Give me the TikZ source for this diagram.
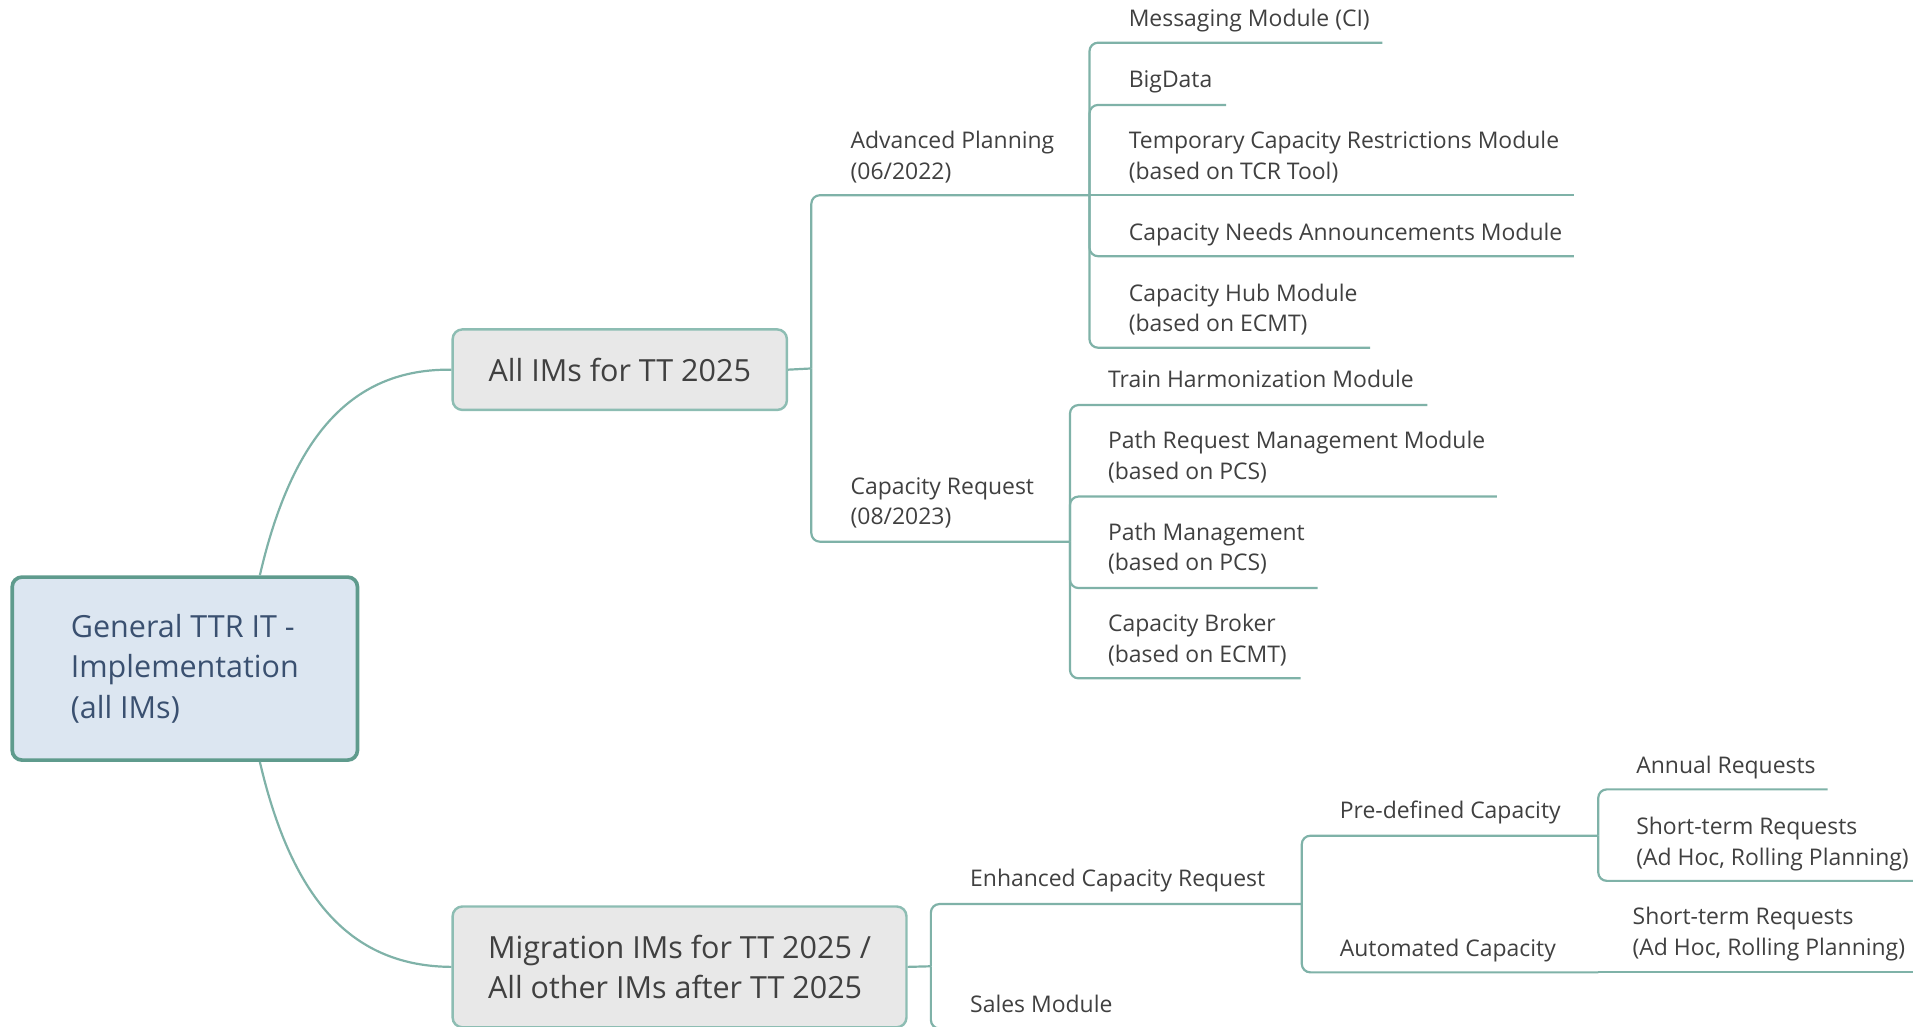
\documentclass[tikz,border=0pt]{standalone}
\usepackage{fontspec}
\setmainfont{Open Sans}
\definecolor{ln}{HTML}{7FB2A8}
\definecolor{rootborder}{HTML}{5F9B8D}
\definecolor{rootfill}{HTML}{DCE6F1}
\definecolor{roottext}{HTML}{3A5070}
\definecolor{boxfill}{HTML}{E8E8E8}
\definecolor{boxborder}{HTML}{8DBDB3}
\definecolor{txt}{HTML}{404040}
\tikzset{
  lbl/.style={anchor=base west, inner sep=0pt, font=\fontsize{18.8}{25}\selectfont, text=txt, align=left},
  conn/.style={draw=ln, line width=1.8pt, rounded corners=7pt},
  rootbox/.style={draw=rootborder, fill=rootfill, line width=3pt, rounded corners=8pt, minimum width=283pt, minimum height=150pt, inner sep=0pt, align=left, text=roottext, font=\fontsize{25}{33}\selectfont},
  mainbox/.style={draw=boxborder, fill=boxfill, line width=2pt, rounded corners=8pt, inner sep=0pt, align=left, text=txt, font=\fontsize{25}{33}\selectfont}
}
\begin{document}
\begin{tikzpicture}[x=1pt,y=-1pt]
\clip (0,0) rectangle (1568,841);
\useasboundingbox (0,0) rectangle (1568,841);
% boxes
\node[rootbox] (root) at (151.5,548) {General TTR IT -\\Implementation\\(all IMs)};
\node[mainbox, minimum width=274pt, minimum height=66pt] (allims) at (508,303) {All IMs for TT 2025};
\node[mainbox, minimum width=372pt, minimum height=99pt] (migr) at (557,792.5) {Migration IMs for TT 2025 /\\All other IMs after TT 2025};
% root curves
\draw[draw=ln, line width=1.8pt] ([xshift=61.5pt]root.north) .. controls (240,355) and (290,302) .. (allims.west);
\draw[draw=ln, line width=1.8pt] ([xshift=61.5pt]root.south) .. controls (240,740) and (290,792) .. (migr.west);
% coordinates
\coordinate (j1) at (665,302);
\coordinate (jA) at (893,160);
\coordinate (jC) at (877,444);
\coordinate (msgE) at (1133,35);
\coordinate (bigE) at (1005,86);
\coordinate (tcrE) at (1290,160);
\coordinate (cnaE) at (1290,210);
\coordinate (hubE) at (1123,285);
\coordinate (thE) at (1170,332);
\coordinate (prmE) at (1227,407);
\coordinate (pmE) at (1080,482);
\coordinate (cbE) at (1066,556);
\coordinate (j2) at (763,792);
\coordinate (jE) at (1067,741);
\coordinate (salesE) at (1000,843);
\coordinate (jP) at (1310,685);
\coordinate (jQ) at (1310,797);
\coordinate (annE) at (1498,647);
\coordinate (st1E) at (1620,722);
\coordinate (st2E) at (1620,797);
% labels (base anchor = baseline of the last line)
\node[lbl] (ap) at (697,147) {Advanced Planning\\(06/2022)};
\node[lbl] (cr) at (697,430) {Capacity Request\\(08/2023)};
\node[lbl] (msg) at (925,22) {Messaging Module (CI)};
\node[lbl] (big) at (925,72) {BigData};
\node[lbl] (tcr) at (925,147) {Temporary Capacity Restrictions Module\\(based on TCR Tool)};
\node[lbl] (cna) at (925,197) {Capacity Needs Announcements Module};
\node[lbl] (hub) at (925,272) {Capacity Hub Module\\(based on ECMT)};
\node[lbl] (th) at (908,318) {Train Harmonization Module};
\node[lbl] (prm) at (908,393) {Path Request Management Module\\(based on PCS)};
\node[lbl] (pm) at (908,468) {Path Management\\(based on PCS)};
\node[lbl] (cb) at (908,543) {Capacity Broker\\(based on ECMT)};
\node[lbl] (ecr) at (795,727) {Enhanced Capacity Request};
\node[lbl] (sales) at (795,830) {Sales Module};
\node[lbl] (pre) at (1098,671) {Pre-defined Capacity};
\node[lbl] (aut) at (1098,784) {Automated Capacity};
\node[lbl] (ann) at (1341,634) {Annual Requests};
\node[lbl] (st1) at (1341,709) {Short-term Requests\\(Ad Hoc, Rolling Planning)};
\node[lbl] (st2) at (1338,783) {Short-term Requests\\(Ad Hoc, Rolling Planning)};
% connectors
\draw[conn] (allims.east) -- (j1);
\draw[conn] (j1) |- (jA);
\draw[conn] (j1) |- (jC);
\draw[conn] (jA) |- (msgE);
\draw[conn] (jA) |- (bigE);
\draw[conn] (jA) -- (tcrE);
\draw[conn] (jA) |- (cnaE);
\draw[conn] (jA) |- (hubE);
\draw[conn] (jC) |- (thE);
\draw[conn] (jC) |- (prmE);
\draw[conn] (jC) |- (pmE);
\draw[conn] (jC) |- (cbE);
\draw[conn] (migr.east) -- (j2);
\draw[conn] (j2) |- (jE);
\draw[conn] (j2) |- (salesE);
\draw[conn] (jE) |- (jP);
\draw[conn] (jE) |- (jQ);
\draw[conn] (jP) |- (annE);
\draw[conn] (jP) |- (st1E);
\draw[conn] (jQ) -- (st2E);
\end{tikzpicture}
\end{document}
